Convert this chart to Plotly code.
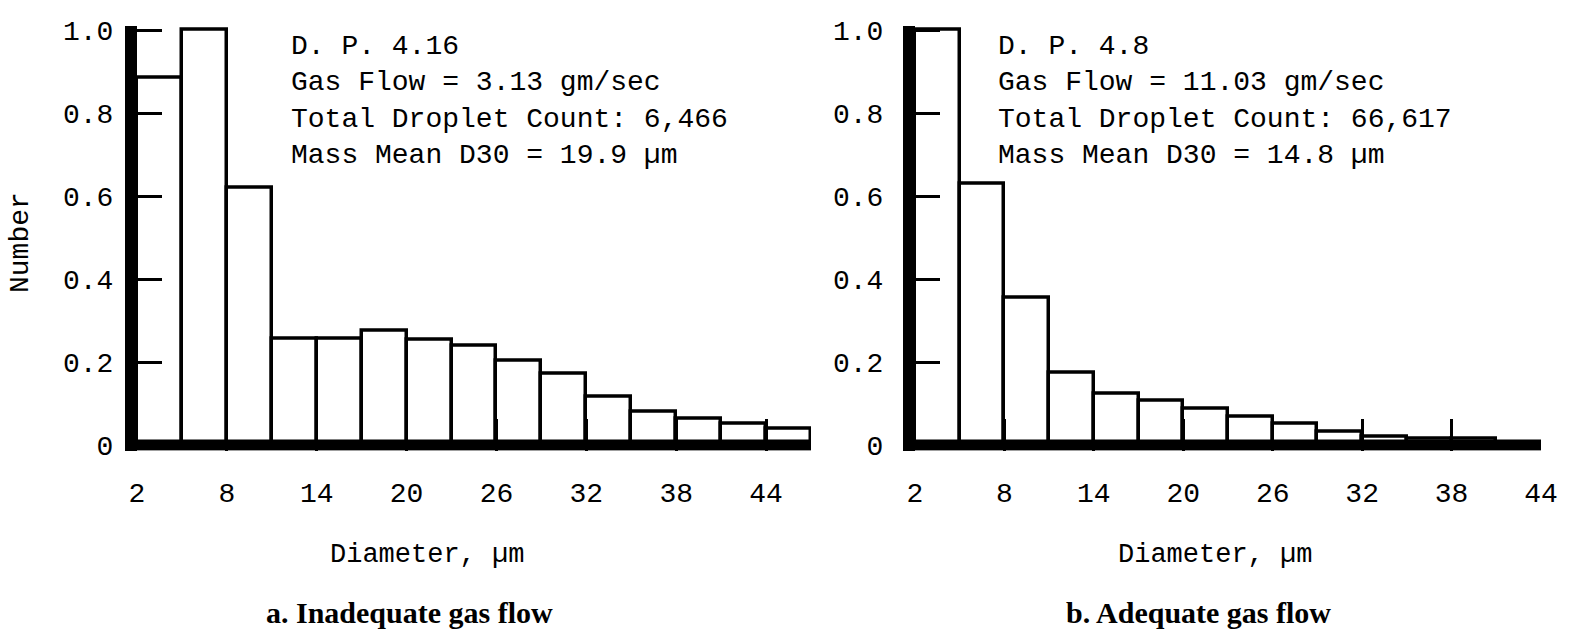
import plotly.graph_objects as go

W, H = 1576, 630

# Droplet size bins: left edge of each 3-µm class
BIN_WIDTH = 3
bins_a = [2, 5, 8, 11, 14, 17, 20, 23, 26, 29, 32, 35, 38, 41, 44]
number_a = [0.885, 1.0, 0.62, 0.255, 0.255, 0.275, 0.253, 0.238, 0.203,
            0.172, 0.116, 0.08, 0.062, 0.05, 0.04]

bins_b = [2, 5, 8, 11, 14, 17, 20, 23, 26, 29, 32, 35, 38, 41]
number_b = [1.0, 0.63, 0.355, 0.173, 0.123, 0.106, 0.088, 0.068, 0.05,
            0.031, 0.02, 0.016, 0.016, 0.005]

y_tick_vals = [0, 0.2, 0.4, 0.6, 0.8, 1.0]
y_tick_text = ["0", "0.2", "0.4", "0.6", "0.8", "1.0"]
x_tick_vals_a = [2, 8, 14, 20, 26, 32, 38, 44, 47]
x_tick_text_a = ["2", "8", "14", "20", "26", "32", "38", "44", ""]
x_tick_vals_b = [2, 8, 14, 20, 26, 32, 38, 44]
x_tick_text_b = ["2", "8", "14", "20", "26", "32", "38", "44"]

info_a = ["D. P. 4.16", "Gas Flow = 3.13 gm/sec",
          "Total Droplet Count: 6,466", "Mass Mean D30 = 19.9 µm"]
info_b = ["D. P. 4.8", "Gas Flow = 11.03 gm/sec",
          "Total Droplet Count: 66,617", "Mass Mean D30 = 14.8 µm"]

x_title = "Diameter, µm"
y_title = "Number"
caption_a = "a. Inadequate gas flow"
caption_b = "b. Adequate gas flow"

MONO = "Liberation Mono, Courier New, monospace"
SERIF = "Liberation Serif, Times New Roman, serif"


def fx(px):
    return px / W


def fy(px):
    return 1 - px / H


# vertical scale: value 0 sits at y=445 px, 415 px per unit
Y_ZERO_PX, PX_PER_UNIT = 445, 415
Y_RANGE = [-0.014, 1.01]
y_dom = [fy(Y_ZERO_PX - Y_RANGE[0] * PX_PER_UNIT),
         fy(Y_ZERO_PX - Y_RANGE[1] * PX_PER_UNIT)]

X_RANGE_A = [2, 47]
X_RANGE_B = [2, 44]


def centers(edges):
    return [e + BIN_WIDTH / 2 for e in edges]


bar_style = dict(color="white", line=dict(color="black", width=3.5))

fig = go.Figure()
fig.add_trace(go.Bar(x=centers(bins_a), y=number_a, width=BIN_WIDTH,
                     marker=bar_style, xaxis="x", yaxis="y",
                     showlegend=False, hoverinfo="x+y"))
fig.add_trace(go.Bar(x=centers(bins_b), y=number_b, width=BIN_WIDTH,
                     marker=bar_style, xaxis="x2", yaxis="y2",
                     showlegend=False, hoverinfo="x+y"))

tick_font = dict(family=MONO, size=28, color="black")


def x_axis(domain, rng, vals, text, anchor):
    return dict(domain=domain, range=rng, anchor=anchor, tickmode="array",
                tickvals=vals, ticktext=text, ticks="inside", ticklen=32,
                tickwidth=3, tickcolor="black", showline=False,
                showgrid=False, zeroline=False, tickfont=tick_font,
                ticklabelstandoff=22, automargin=False, fixedrange=True)


def y_axis(anchor, standoff):
    return dict(domain=y_dom, range=Y_RANGE, anchor=anchor, tickmode="array",
                tickvals=y_tick_vals, ticktext=y_tick_text, ticks="inside",
                ticklen=25, tickwidth=2.5, tickcolor="black", showline=True,
                linewidth=12, linecolor="black", showgrid=False,
                zeroline=False, tickfont=tick_font,
                ticklabelstandoff=standoff, automargin=False,
                fixedrange=True)


fig.update_layout(
    width=W, height=H,
    margin=dict(l=0, r=0, t=0, b=0, pad=0),
    paper_bgcolor="white", plot_bgcolor="white",
    bargap=0,
    xaxis=x_axis([fx(137), fx(811)], X_RANGE_A, x_tick_vals_a,
                 x_tick_text_a, "y"),
    yaxis=y_axis("x", 6),
    xaxis2=x_axis([fx(915), fx(1541)], X_RANGE_B, x_tick_vals_b,
                  x_tick_text_b, "y2"),
    yaxis2=y_axis("x2", 14),
)

# heavy baselines along zero
for xr, yr, rng in (("x", "y", X_RANGE_A), ("x2", "y2", X_RANGE_B)):
    fig.add_shape(type="line", xref=xr, yref=yr, x0=rng[0], x1=rng[1],
                  y0=0, y1=0, line=dict(color="black", width=11),
                  layer="above")

annotations = []
for lines, left in ((info_a, 289), (info_b, 996)):
    annotations.append(dict(text="<br>".join(lines), x=fx(left), y=fy(29),
                            xref="paper", yref="paper", xanchor="left",
                            yanchor="top", align="left", showarrow=False,
                            font=dict(family=MONO, size=28, color="black")))

annotations.append(dict(text=y_title, x=fx(21), y=fy(243), xref="paper",
                        yref="paper", textangle=-90, showarrow=False,
                        xanchor="center", yanchor="middle",
                        font=dict(family=MONO, size=28, color="black")))

for cx in (427, 1215):
    annotations.append(dict(text=x_title, x=fx(cx), y=fy(555), xref="paper",
                            yref="paper", showarrow=False, xanchor="center",
                            yanchor="middle",
                            font=dict(family=MONO, size=27, color="black")))

for txt, cx in ((caption_a, 410), (caption_b, 1198)):
    annotations.append(dict(text="<b>" + txt + "</b>", x=fx(cx), y=fy(612),
                            xref="paper", yref="paper", showarrow=False,
                            xanchor="center", yanchor="middle",
                            font=dict(family=SERIF, size=30, color="black")))

fig.update_layout(annotations=annotations)

fig.write_html("out.html", config={"displayModeBar": False})
